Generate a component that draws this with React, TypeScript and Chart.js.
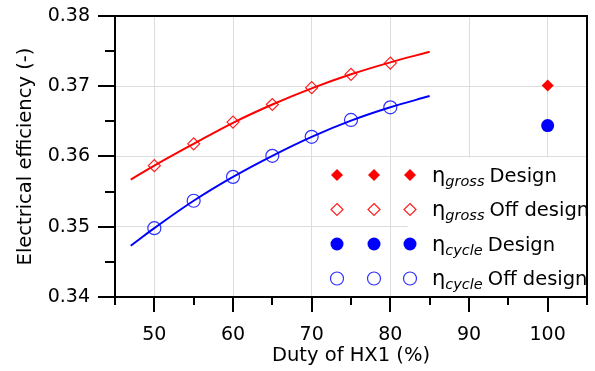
import React, { useEffect, useRef } from "react";
import Chart from "chart.js/auto";

// ---- data ----
const curveDuty = [47, 50, 55, 60, 65, 70, 75, 80, 85];
const grossFit = [0.3567, 0.3587, 0.3618, 0.3648, 0.3674, 0.3697, 0.3717, 0.3734, 0.3749];
const cycleFit = [0.3473, 0.3498, 0.3537, 0.3571, 0.3601, 0.3628, 0.3651, 0.367, 0.3686];

const dutyOff = [50, 55, 60, 65, 70, 75, 80];
const grossOff = [0.3587, 0.3618, 0.3649, 0.3674, 0.3698, 0.3717, 0.3733];
const cycleOff = [0.3498, 0.3537, 0.3571, 0.3601, 0.3628, 0.3652, 0.367];

const dutyDesign = [100];
const grossDesign = [0.3701];
const cycleDesign = [0.3644];

const xMin = 45;
const xMax = 105;
const yMin = 0.34;
const yMax = 0.38;

const legendRows = [
  { sub: "gross", text: "Design", style: "rectRot", fill: true, color: "#ff0000" },
  { sub: "gross", text: "Off design", style: "rectRot", fill: false, color: "#ff2020" },
  { sub: "cycle", text: "Design", style: "circle", fill: true, color: "#0000ff" },
  { sub: "cycle", text: "Off design", style: "circle", fill: false, color: "#3030ff" },
];

const FONT = "'DejaVu Sans', 'Liberation Sans', Arial, sans-serif";

const pts = (xs: number[], ys: number[]) => xs.map((x, i) => ({ x, y: ys[i] }));

function drawMarker(ctx: CanvasRenderingContext2D, style: string, fill: boolean, color: string, x: number, y: number, r: number) {
  ctx.save();
  ctx.beginPath();
  if (style === "circle") {
    ctx.arc(x, y, r, 0, Math.PI * 2);
  } else {
    ctx.moveTo(x, y - r);
    ctx.lineTo(x + r, y);
    ctx.lineTo(x, y + r);
    ctx.lineTo(x - r, y);
    ctx.closePath();
  }
  if (fill) {
    ctx.fillStyle = color;
    ctx.fill();
  } else {
    ctx.strokeStyle = color;
    ctx.lineWidth = 1.2;
    ctx.stroke();
  }
  ctx.restore();
}

const zeroPad = (s: any) => {
  s.paddingTop = 0;
  s.paddingBottom = 0;
  s.paddingLeft = 0;
  s.paddingRight = 0;
};

const framePlugin = {
  id: "framePlugin",
  afterDatasetsDraw(chart: any) {
    const { ctx } = chart;
    const xs = chart.scales.x;
    const ys = chart.scales.y;
    // legend background
    const lx = xs.getPixelForValue(82.2);
    const ly = ys.getPixelForValue(0.35985);
    ctx.save();
    ctx.fillStyle = "#ffffff";
    ctx.fillRect(lx, ly, chart.chartArea.right - lx, chart.chartArea.bottom - ly);
    ctx.restore();
  },
  afterDraw(chart: any) {
    const { ctx, chartArea } = chart;
    const xs = chart.scales.x;
    const ys = chart.scales.y;
    const { left, right, top, bottom } = chartArea;
    ctx.save();
    ctx.strokeStyle = "#000";
    ctx.lineWidth = 2;
    ctx.lineCap = "butt";
    ctx.beginPath();
    ctx.moveTo(left, top);
    ctx.lineTo(right, top);
    ctx.lineTo(right, bottom);
    ctx.lineTo(left, bottom);
    ctx.closePath();
    ctx.stroke();
    // y ticks
    for (let k = 0; k <= 8; k++) {
      const v = yMin + k * 0.005;
      const p = Math.round(ys.getPixelForValue(v));
      const major = k % 2 === 0;
      ctx.beginPath();
      ctx.moveTo(left - (major ? 17 : 10), p);
      ctx.lineTo(left, p);
      ctx.stroke();
    }
    // x ticks
    for (let v = xMin; v <= xMax; v += 5) {
      const p = Math.round(xs.getPixelForValue(v));
      const major = v % 10 === 0;
      ctx.beginPath();
      ctx.moveTo(p, bottom);
      ctx.lineTo(p, bottom + (major ? 15 : 8));
      ctx.stroke();
    }
    ctx.restore();

    // legend content
    const markerX = [337, 374, 410];
    const rowY = [175, 209.5, 244, 278.5];
    legendRows.forEach((row, i) => {
      const y = rowY[i];
      markerX.forEach((mx) => drawMarker(ctx, row.style, row.fill, row.color, mx, y, row.style === "circle" ? 6.5 : 6));
      ctx.save();
      ctx.fillStyle = "#000";
      ctx.textBaseline = "alphabetic";
      ctx.textAlign = "left";
      ctx.font = `21px ${FONT}`;
      let x = 432;
      const base = y + 6.5;
      ctx.fillText("η", x, base);
      x += ctx.measureText("η").width;
      ctx.font = `italic 14.5px ${FONT}`;
      ctx.fillText(row.sub, x, base + 4);
      x += ctx.measureText(row.sub).width + 5;
      ctx.font = `19.5px ${FONT}`;
      ctx.fillText(row.text, x, base);
      ctx.restore();
    });
  },
};

export default function App() {
  const ref = useRef<HTMLCanvasElement | null>(null);
  useEffect(() => {
    if (!ref.current) return;
    const chart = new Chart(ref.current, {
      type: "scatter",
      data: {
        datasets: [
          {
            label: "gross fit",
            data: pts(curveDuty, grossFit),
            showLine: true,
            borderColor: "#ff0000",
            borderWidth: 2,
            pointRadius: 0,
            tension: 0.4,
          },
          {
            label: "cycle fit",
            data: pts(curveDuty, cycleFit),
            showLine: true,
            borderColor: "#0000ff",
            borderWidth: 2,
            pointRadius: 0,
            tension: 0.4,
          },
          {
            label: "gross off",
            data: pts(dutyOff, grossOff),
            pointStyle: "rectRot",
            pointRadius: 6,
            borderColor: "#ff2020",
            backgroundColor: "rgba(0,0,0,0)",
            pointBorderWidth: 1.2,
          },
          {
            label: "cycle off",
            data: pts(dutyOff, cycleOff),
            pointStyle: "circle",
            pointRadius: 6.5,
            borderColor: "#3030ff",
            backgroundColor: "rgba(0,0,0,0)",
            pointBorderWidth: 1.2,
          },
          {
            label: "gross design",
            data: pts(dutyDesign, grossDesign),
            pointStyle: "rectRot",
            pointRadius: 6,
            borderColor: "#ff0000",
            backgroundColor: "#ff0000",
            pointBorderWidth: 0,
          },
          {
            label: "cycle design",
            data: pts(dutyDesign, cycleDesign),
            pointStyle: "circle",
            pointRadius: 6.5,
            borderColor: "#0000ff",
            backgroundColor: "#0000ff",
            pointBorderWidth: 0,
          },
        ],
      },
      options: {
        animation: false,
        responsive: false,
        maintainAspectRatio: false,
        layout: { padding: { top: 16, right: 8, left: 0, bottom: 0 } },
        plugins: { legend: { display: false }, tooltip: { enabled: false } },
        scales: {
          x: {
            type: "linear",
            min: xMin,
            max: xMax,
            afterFit: (s: any) => {
              s.height = 74;
              zeroPad(s);
            },
            border: { display: false },
            grid: {
              drawTicks: false,
              color: (c: any) => {
                const v = c.tick?.value;
                return v % 10 === 0 && v > xMin && v < xMax ? "#dddddd" : "rgba(0,0,0,0)";
              },
              lineWidth: 1,
            },
            ticks: {
              stepSize: 5,
              autoSkip: false,
              maxRotation: 0,
              padding: 27,
              color: "#000",
              font: { family: FONT, size: 19 },
              callback: (v: any) => (Number(v) % 10 === 0 && v >= 50 && v <= 100 ? String(v) : ""),
            },
            title: {
              display: true,
              text: "Duty of HX1 (%)",
              color: "#000",
              font: { family: FONT, size: 19.5 },
              padding: { top: 0, bottom: 3 },
            },
          },
          y: {
            type: "linear",
            min: yMin,
            max: yMax,
            afterFit: (s: any) => {
              s.width = 115;
              zeroPad(s);
            },
            border: { display: false },
            grid: {
              drawTicks: false,
              color: (c: any) => {
                const v = Math.round((c.tick?.value ?? 0) * 1000);
                return v % 10 === 0 && v > 340 && v < 380 ? "#dddddd" : "rgba(0,0,0,0)";
              },
              lineWidth: 1,
            },
            ticks: {
              stepSize: 0.005,
              autoSkip: false,
              padding: 25,
              color: "#000",
              font: { family: FONT, size: 19 },
              callback: (v: any) => {
                const m = Math.round(Number(v) * 1000);
                return m % 10 === 0 ? (m / 1000).toFixed(2) : "";
              },
            },
            title: {
              display: true,
              text: "Electrical efficiency (-)",
              color: "#000",
              font: { family: FONT, size: 19.5 },
              padding: { top: 14, bottom: 0 },
            },
          },
        },
      },
      plugins: [framePlugin],
    } as any);
    return () => chart.destroy();
  }, []);
  return (
    <div style={{ position: "fixed", left: 0, top: 0, width: 595, height: 371, background: "#fff" }}>
      <canvas ref={ref} width={595} height={371} style={{ width: 595, height: 371, display: "block" }} />
    </div>
  );
}
